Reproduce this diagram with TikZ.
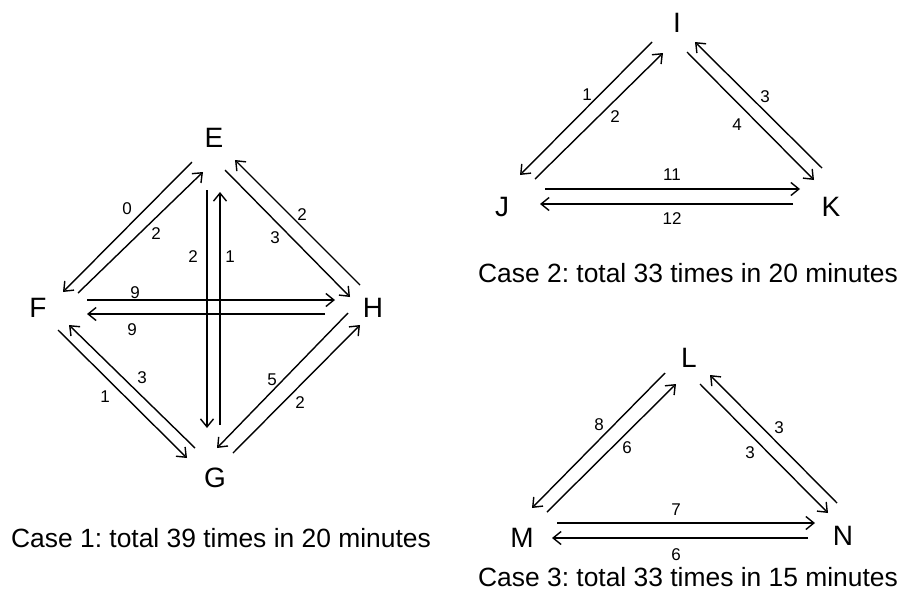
\documentclass[tikz,border=0pt]{standalone}
\usepackage{fontspec}
\setmainfont{Liberation Sans}
\frenchspacing
\usetikzlibrary{arrows.meta}
\tikzset{
  vtx/.style={inner sep=0pt, font=\fontsize{28}{30}\selectfont},
  lbl/.style={inner sep=0pt, font=\fontsize{17}{19}\selectfont},
  captext/.style={inner sep=0pt, anchor=base, font=\fontsize{26.4}{30}\selectfont},
  arr/.style={line width=1.4pt, -{Straight Barb[length=8pt,width=13pt,line width=1.4pt]}},
}
\begin{document}
\begin{tikzpicture}[x=1pt,y=-1pt]
\fill[white] (0,0) rectangle (903,603);
\useasboundingbox (0,0) rectangle (903,603);

% ---------- Case 1 ----------
\node[vtx] (E) at (214,138) {E};
\node[vtx] (F) at (38,308) {F};
\node[vtx] (H) at (373,308) {H};
\node[vtx] (G) at (215,478) {G};

\draw[arr] ([shift={(-22,24)}]E.center) -- ([shift={(25,-16)}]F.center);
\draw[arr] ([shift={(40,-15)}]F.center) -- ([shift={(-11,34)}]E.center);
\draw[arr] ([shift={(11,32)}]E.center) -- ([shift={(-23,-11)}]H.center);
\draw[arr] ([shift={(-13,-23)}]H.center) -- ([shift={(21,22)}]E.center);
\draw[arr] ([shift={(-7,52)}]E.center) -- ([shift={(-8,-50)}]G.center);
\draw[arr] ([shift={(5,-53)}]G.center) -- ([shift={(6,54)}]E.center);
\draw[arr] ([shift={(49,-8)}]F.center) -- ([shift={(-38,-8)}]H.center);
\draw[arr] ([shift={(-48,6)}]H.center) -- ([shift={(49,6)}]F.center);
\draw[arr] ([shift={(20,22)}]F.center) -- ([shift={(-28,-20)}]G.center);
\draw[arr] ([shift={(-20,-30)}]G.center) -- ([shift={(31,17)}]F.center);
\draw[arr] ([shift={(18,-25)}]G.center) -- ([shift={(-13,17)}]H.center);
\draw[arr] ([shift={(-25,5)}]H.center) -- ([shift={(2,-30)}]G.center);

\node[lbl] (l1a) at (127,209) {0};
\node[lbl] (l1b) at (156,234) {2};
\node[lbl] (l1c) at (302,215) {2};
\node[lbl] (l1d) at (275,238) {3};
\node[lbl] (l1e) at (193,257) {2};
\node[lbl] (l1f) at (230,257) {1};
\node[lbl] (l1g) at (135,293) {9};
\node[lbl] (l1h) at (132,330) {9};
\node[lbl] (l1i) at (105,397) {1};
\node[lbl] (l1j) at (142,378) {3};
\node[lbl] (l1k) at (272,380) {5};
\node[lbl] (l1l) at (300,403) {2};

\node[captext] (c1) at (221,547) {Case 1: total 39 times in 20 minutes};

% ---------- Case 2 ----------
\node[vtx] (I) at (677,23) {I};
\node[vtx] (J) at (502,207) {J};
\node[vtx] (K) at (831,207) {K};

\draw[arr] ([shift={(-25,19)}]I.center) -- ([shift={(18,-32)}]J.center);
\draw[arr] ([shift={(33,-28)}]J.center) -- ([shift={(-14,30)}]I.center);
\draw[arr] ([shift={(10,29)}]I.center) -- ([shift={(-17,-27)}]K.center);
\draw[arr] ([shift={(-9,-39)}]K.center) -- ([shift={(18,19)}]I.center);
\draw[arr] ([shift={(43,-18)}]J.center) -- ([shift={(-31,-18)}]K.center);
\draw[arr] ([shift={(-38,-3)}]K.center) -- ([shift={(38,-3)}]J.center);

\node[lbl] (l2a) at (587,95) {1};
\node[lbl] (l2b) at (615,117) {2};
\node[lbl] (l2c) at (765,97) {3};
\node[lbl] (l2d) at (737,125) {4};
\node[lbl] (l2e) at (672,175) {11};
\node[lbl] (l2f) at (672,219) {12};

\node[captext] (c2) at (688,282) {Case 2: total 33 times in 20 minutes};

% ---------- Case 3 ----------
\node[vtx] (L) at (689,358) {L};
\node[vtx] (M) at (522,538) {M};
\node[vtx] (N) at (843,536) {N};

\draw[arr] ([shift={(-24,15)}]L.center) -- ([shift={(10,-30)}]M.center);
\draw[arr] ([shift={(25,-26)}]M.center) -- ([shift={(-13,26)}]L.center);
\draw[arr] ([shift={(11,26)}]L.center) -- ([shift={(-15,-23)}]N.center);
\draw[arr] ([shift={(-6,-33)}]N.center) -- ([shift={(21,17)}]L.center);
\draw[arr] ([shift={(35,-15)}]M.center) -- ([shift={(-28,-13)}]N.center);
\draw[arr] ([shift={(-35,2)}]N.center) -- ([shift={(30,0)}]M.center);

\node[lbl] (l3a) at (599,425) {8};
\node[lbl] (l3b) at (627,448) {6};
\node[lbl] (l3c) at (779,428) {3};
\node[lbl] (l3d) at (750,453) {3};
\node[lbl] (l3e) at (676,510) {7};
\node[lbl] (l3f) at (676,555) {6};

\node[captext] (c3) at (688,586) {Case 3: total 33 times in 15 minutes};
\end{tikzpicture}
\end{document}
